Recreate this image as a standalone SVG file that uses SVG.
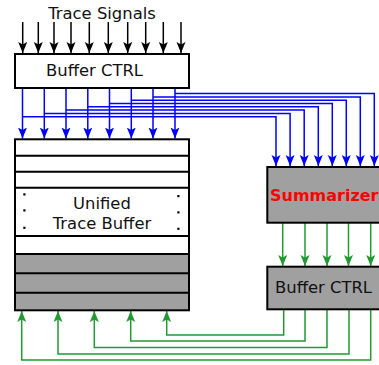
<svg xmlns="http://www.w3.org/2000/svg" width="379" height="365" viewBox="0 0 379 365">
<style>
.t{font-family:"DejaVu Sans",Verdana,sans-serif;font-size:16.4px;fill:#111}
.box{stroke:#000;stroke-width:2}
.blk{stroke:#000;stroke-width:1.5;fill:none}
.blu{stroke:#0000ff;stroke-width:1.5;fill:none}
.grn{stroke:#229933;stroke-width:1.5;fill:none}
.row{stroke:#000;stroke-width:2}
</style>
<defs>
<marker id="ak" markerUnits="userSpaceOnUse" markerWidth="12" markerHeight="10" refX="11" refY="4.5" orient="auto"><path d="M0,0 L11,4.5 L0,9 L2.5,4.5 z" fill="#000"/></marker>
<marker id="ab" markerUnits="userSpaceOnUse" markerWidth="12" markerHeight="10" refX="11" refY="4.5" orient="auto"><path d="M0,0 L11,4.5 L0,9 L2.5,4.5 z" fill="#0000ff"/></marker>
<marker id="ag" markerUnits="userSpaceOnUse" markerWidth="12" markerHeight="10" refX="11" refY="4.5" orient="auto"><path d="M0,0 L11,4.5 L0,9 L2.5,4.5 z" fill="#229933"/></marker>
</defs>
<rect width="379" height="365" fill="#fff"/>
<text class="t" x="102" y="19" text-anchor="middle">Trace Signals</text>
<g id="connectors">
<g marker-end="url(#ak)" class="blk">
<path d="M22.7,22 V53"/><path d="M38.3,22 V53"/><path d="M54,22 V53"/><path d="M71,22 V53"/><path d="M89.3,22 V53"/><path d="M108.3,22 V53"/><path d="M127.7,22 V53"/><path d="M145.7,22 V53"/><path d="M163.3,22 V53"/><path d="M181,22 V53"/>
</g>
<g marker-end="url(#ab)" class="blu">
<path d="M22.5,88 V138.5"/><path d="M44.3,88 V138.5"/><path d="M66,88 V138.5"/><path d="M87.8,88 V138.5"/><path d="M109.5,88 V138.5"/><path d="M131.3,88 V138.5"/><path d="M153,88 V138.5"/><path d="M175,88 V138.5"/>
<path d="M22.5,116.7 H276 V166"/>
<path d="M44.3,113.4 H290.1 V166"/>
<path d="M66,110.1 H304.2 V166"/>
<path d="M87.8,106.8 H318.3 V166"/>
<path d="M109.5,103.5 H332.3 V166"/>
<path d="M131.3,100.2 H346.3 V166"/>
<path d="M153,96.9 H360.3 V166"/>
<path d="M175,93.6 H374.3 V166"/>
</g>
<g marker-end="url(#ag)" class="grn">
<path d="M282.7,223 V266"/><path d="M305,223 V266"/><path d="M327,223 V266"/><path d="M348.5,223 V266"/><path d="M370.7,223 V266"/>
<path d="M283.7,309.5 V335 H166.7 V311"/>
<path d="M305,309.5 V341 H130.7 V311"/>
<path d="M327,309.5 V347.5 H94.3 V311"/>
<path d="M349,309.5 V354 H58 V311"/>
<path d="M370.7,309.5 V360 H21.7 V311"/>
</g>
</g>
<g id="buffer-ctrl-top">
<rect class="box" x="15" y="54" width="174" height="34" fill="#fff"/>
<text class="t" x="46" y="76">Buffer CTRL</text>
</g>
<g id="unified-trace-buffer">
<rect x="15" y="254" width="174" height="56.3" fill="#a0a0a0"/>
<path class="row" d="M15,155.7 H189 M15,171.7 H189 M15,187.7 H189 M15,236 H189 M15,254 H189 M15,273.3 H189 M15,292.7 H189"/>
<rect class="box" x="15" y="139.3" width="174" height="171" fill="none"/>
<g fill="#000">
<rect x="23.3" y="193.3" width="2.2" height="2.2"/><rect x="23.3" y="209.3" width="2.2" height="2.2"/><rect x="23.3" y="226.7" width="2.2" height="2.2"/>
<rect x="177.3" y="195" width="2.2" height="2.2"/><rect x="177.3" y="211.3" width="2.2" height="2.2"/><rect x="177.3" y="227.7" width="2.2" height="2.2"/>
</g>
<text class="t" x="102" y="209" text-anchor="middle">Unified</text>
<text class="t" x="102" y="229.3" text-anchor="middle">Trace Buffer</text>
</g>
<g id="summarizer">
<rect class="box" x="267.3" y="167" width="130" height="55.7" fill="#a0a0a0"/>
<text x="270" y="200.7" style="font-family:'DejaVu Sans',sans-serif;font-size:16px;font-weight:bold;fill:#ff0000">Summarizer</text>
</g>
<g id="buffer-ctrl-bottom">
<rect class="box" x="267.3" y="266.7" width="130" height="42.6" fill="#a0a0a0"/>
<text class="t" x="275" y="293.3">Buffer CTRL</text>
</g>
</svg>
